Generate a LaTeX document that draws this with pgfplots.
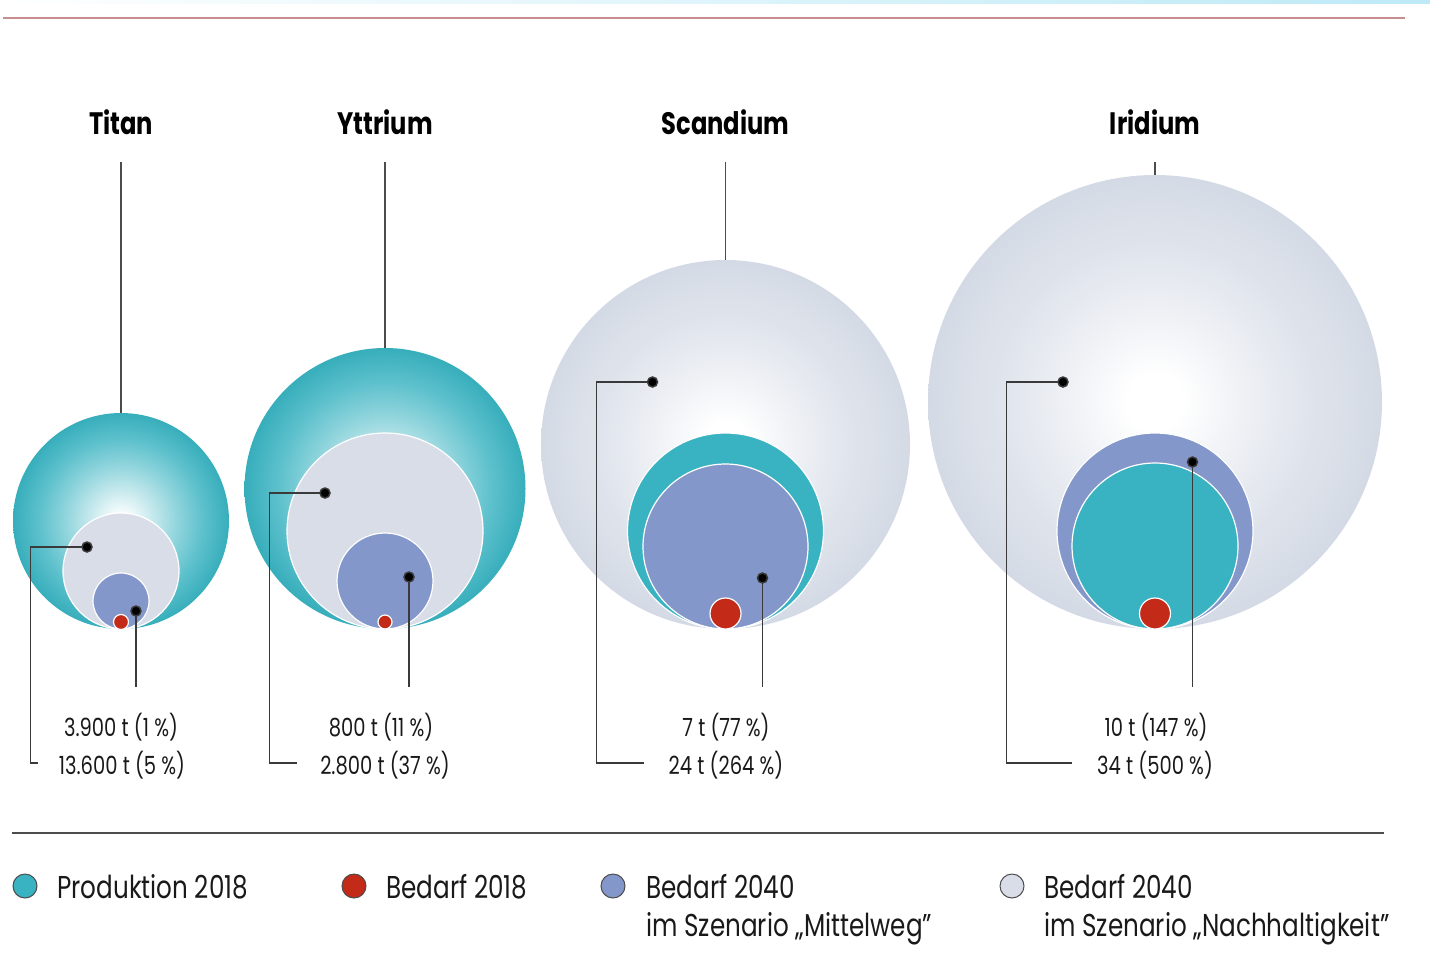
\documentclass[border=0pt]{standalone}
\usepackage{pgfplots}
\pgfplotsset{compat=1.18}
\usepackage{pgfplotstable}
\usepackage{fontspec}
\setmainfont{Poppins}[FakeStretch=0.78]

\definecolor{tealc}{HTML}{39B3C1}
\definecolor{lilac}{HTML}{8497CA}
\definecolor{redc}{HTML}{C32A17}
\definecolor{paleg}{HTML}{D8DDE7}
\definecolor{edgeg}{HTML}{D4DAE5}
\definecolor{leader}{HTML}{3A3A3A}
\definecolor{rulered}{HTML}{C78D8F}
\definecolor{stripc}{HTML}{BDEAF6}

% radial fills for the outer bubbles (circle rim at 25bp)
\pgfdeclareradialshading{tealshade}{\pgfpoint{0bp}{0bp}}{%
  color(0bp)=(white); color(2.5bp)=(white!94!tealc); color(7.5bp)=(tealc!30!white);
  color(13.5bp)=(tealc!58!white); color(19bp)=(tealc!82!white);
  color(25bp)=(tealc!97!black); color(50bp)=(tealc!97!black)}
\pgfdeclareradialshading{greyshade}{\pgfpoint{0bp}{0bp}}{%
  color(0bp)=(white); color(3bp)=(white); color(10bp)=(edgeg!40!white);
  color(17.5bp)=(edgeg!75!white); color(25bp)=(edgeg); color(50bp)=(edgeg)}
\pgfdeclareplotmark{tealball}{%
  \pgfpathcircle{\pgfpointorigin}{\pgfplotmarksize}%
  \pgfshadepath{tealshade}{0}\pgfusepath{discard}}
\pgfdeclareplotmark{greyball}{%
  \pgfpathcircle{\pgfpointorigin}{\pgfplotmarksize}%
  \pgfshadepath{greyshade}{0}\pgfusepath{discard}}

% bubbles: centre (x,y) and radius r, in drawing units (1 unit = 0.5pt)
\pgfplotstableread{
x      y      r
121    521    108
385    488.5  140.5
}\prodOuter
\pgfplotstableread{
x      y      r
725.5  444.5  184.5
1155   402    227
}\nachOuter
\pgfplotstableread{
x      y      r
121    571    58
385    531    98
}\nachInner
\pgfplotstableread{
x      y      r
725.5  531    98
}\prodSc
\pgfplotstableread{
x      y      r
121    601    28
385    581    48
725.5  546.5  82.5
1155   531    98
}\mittel
\pgfplotstableread{
x      y      r
1155   546    83
}\prodIr
\pgfplotstableread{
x      y      r
121    622    7.5
385    622    7
725.5  613.5  15.5
1155   613.5  15.5
}\bedarf

\pgfplotsset{
  bubble/.style={scatter, only marks, point meta=\thisrow{r},
    scatter/use mapped color={draw=white, fill=#1, line width=0.6pt},
    visualization depends on={\thisrow{r} \as \rr},
    scatter/@pre marker code/.append style={/tikz/mark size=0.5*\rr}},
  shadedbubble/.style={scatter, only marks, mark=#1, point meta=\thisrow{r},
    scatter/use mapped color={draw=none, fill=none},
    visualization depends on={\thisrow{r} \as \rr},
    scatter/@pre marker code/.append style={/tikz/mark size=0.5*\rr}},
  leaderline/.style={leader, line width=0.75pt, mark=*, mark indices={1},
    mark size=2.5pt, mark options={fill=black, draw=none}},
  keymark/.style={only marks, mark=*, mark size=6pt,
    mark options={fill=#1, draw=black!70, line width=0.5pt}},
}

\begin{document}
\begin{tikzpicture}
\begin{axis}[
  x=0.5pt, y=0.5pt, y dir=reverse,
  xmin=0, xmax=1430, ymin=0, ymax=959,
  hide axis, clip=false, clip marker paths=true,
  point meta min=0, point meta max=1000,
]
\path (axis cs:0,0) rectangle (axis cs:1430,959);

% header strip and rule
\shade[left color=white, right color=stripc] (axis cs:0,0) rectangle (axis cs:1430,3.5);
\addplot[rulered, line width=1pt] coordinates {(3,18) (1405,18)};

% titles with their connector lines
\addplot[black!70, line width=0.6pt] coordinates {(121,162) (121,413)};
\addplot[black!70, line width=0.6pt] coordinates {(385,162) (385,348)};
\addplot[black!70, line width=0.6pt] coordinates {(725.5,162) (725.5,260)};
\addplot[black!70, line width=0.6pt] coordinates {(1155,162) (1155,176)};
\node[font=\bfseries\fontsize{15.5}{18}\selectfont] at (axis cs:121,122) {Titan};
\node[font=\bfseries\fontsize{15.5}{18}\selectfont] at (axis cs:385,122) {Yttrium};
\node[font=\bfseries\fontsize{15.5}{18}\selectfont] at (axis cs:725.5,122) {Scandium};
\node[font=\bfseries\fontsize{15.5}{18}\selectfont] at (axis cs:1155,122) {Iridium};

% bubbles, largest first within each element
\addplot[shadedbubble=tealball] table {\prodOuter};
\addplot[shadedbubble=greyball] table {\nachOuter};
\addplot[bubble=paleg, mark=*] table {\nachInner};
\addplot[bubble=tealc, mark=*] table {\prodSc};
\addplot[bubble=lilac, mark=*] table {\mittel};
\addplot[bubble=tealc, mark=*] table {\prodIr};
\addplot[bubble=redc, mark=*] table {\bedarf};

% leader lines to the value labels
\addplot[leaderline] coordinates {(87,547) (30.5,547) (30.5,763) (38,763)};
\addplot[leaderline] coordinates {(136,611) (136,687)};
\addplot[leaderline] coordinates {(325,493) (269.5,493) (269.5,763) (297,763)};
\addplot[leaderline] coordinates {(409,577) (409,687)};
\addplot[leaderline] coordinates {(652.5,382) (596.5,382) (596.5,763) (644,763)};
\addplot[leaderline] coordinates {(762.5,578) (762.5,687)};
\addplot[leaderline] coordinates {(1063,382) (1006.5,382) (1006.5,763) (1072,763)};
\addplot[leaderline] coordinates {(1192.5,462) (1192.5,687)};

\tikzset{val/.style={font=\fontsize{12.5}{15}\selectfont, text=black!90}}
\node[val] at (axis cs:121,727) {3.900 t (1 \%)};
\node[val] at (axis cs:122,765) {13.600 t (5 \%)};
\node[val] at (axis cs:381,727) {800 t (11 \%)};
\node[val] at (axis cs:385,765) {2.800 t (37 \%)};
\node[val] at (axis cs:726,727) {7 t (77 \%)};
\node[val] at (axis cs:726,765) {24 t (264 \%)};
\node[val] at (axis cs:1156,727) {10 t (147 \%)};
\node[val] at (axis cs:1155,765) {34 t (500 \%)};

% key
\addplot[black!70, line width=0.7pt] coordinates {(12,833) (1384,833)};
\addplot[keymark=tealc] coordinates {(25,886)};
\addplot[keymark=redc] coordinates {(354,886)};
\addplot[keymark=lilac] coordinates {(613,886)};
\addplot[keymark=paleg] coordinates {(1012,886)};
\tikzset{key/.style={font=\fontsize{15.8}{19}\selectfont, anchor=base west, inner sep=0pt, text=black!90}}
\node[key] at (axis cs:57,898) {Produktion 2018};
\node[key] at (axis cs:386,898) {Bedarf 2018};
\node[key] at (axis cs:646,898) {Bedarf 2040};
\node[key] at (axis cs:646,936) {im Szenario „Mittelweg"};
\node[key] at (axis cs:1044,898) {Bedarf 2040};
\node[key] at (axis cs:1044,936) {im Szenario „Nachhaltigkeit"};
\end{axis}
\end{tikzpicture}
\end{document}
